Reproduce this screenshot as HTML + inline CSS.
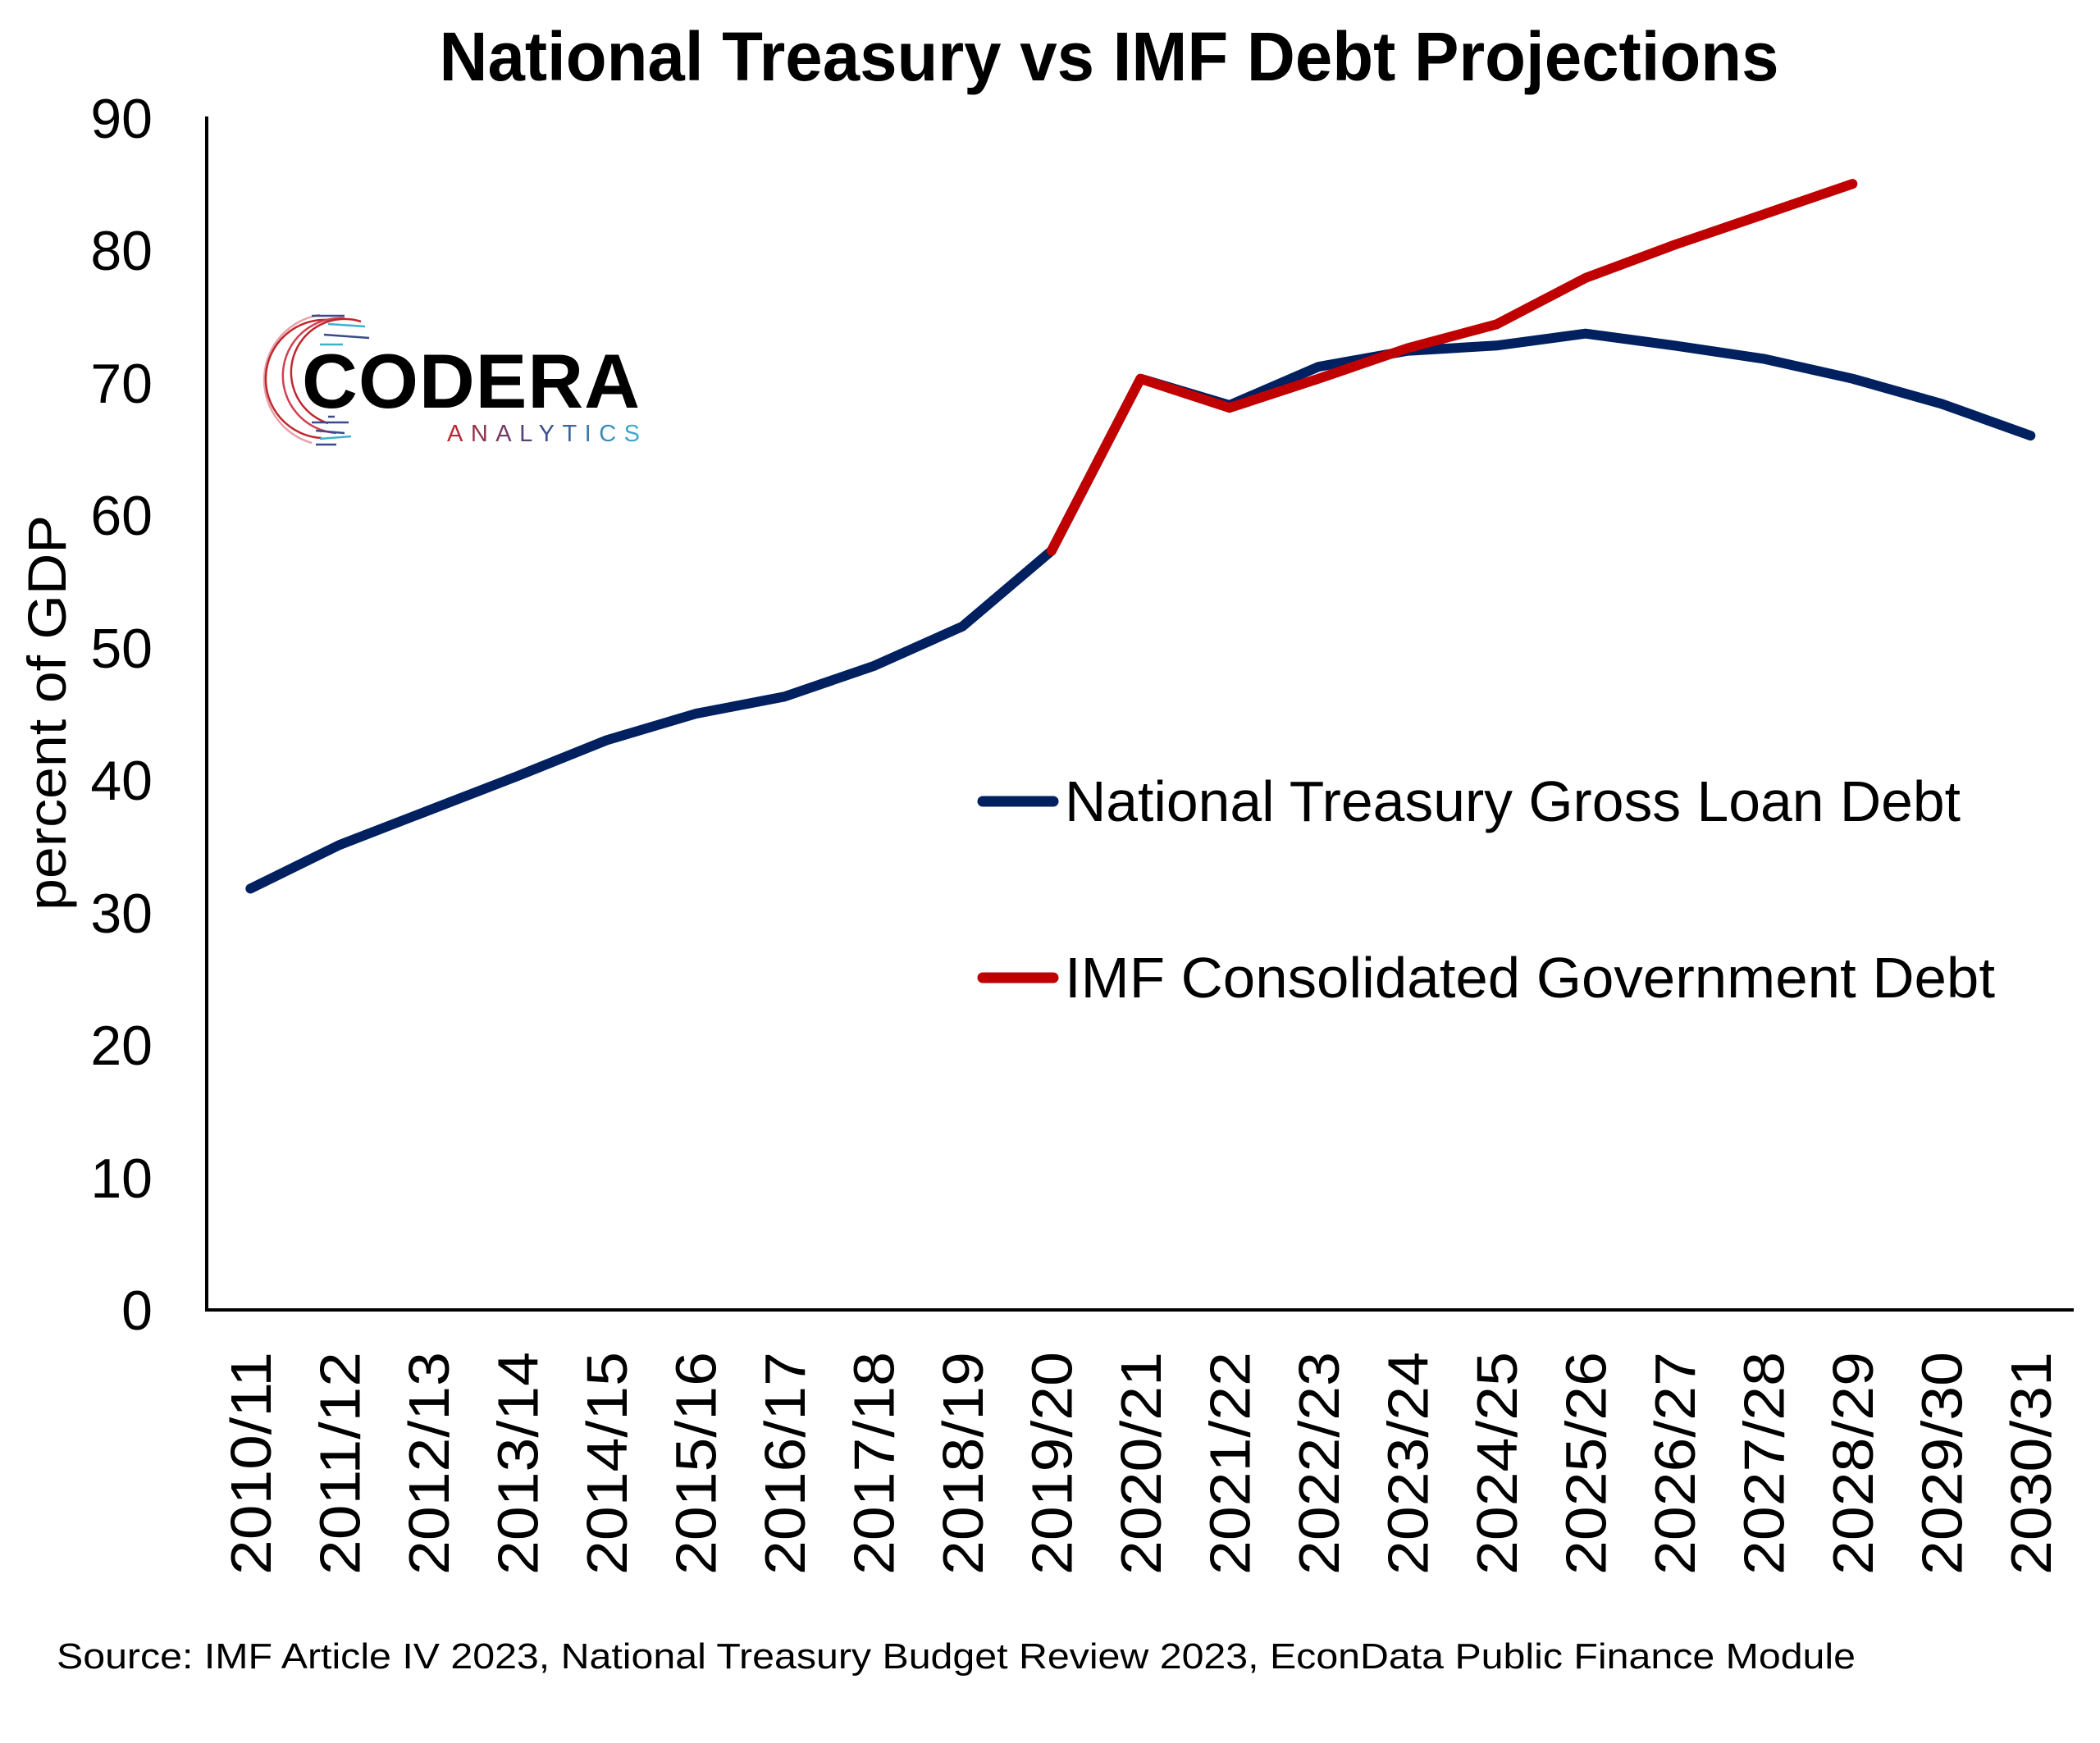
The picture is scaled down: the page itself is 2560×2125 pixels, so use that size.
<!DOCTYPE html>
<html><head><meta charset="utf-8"><style>
html,body{margin:0;padding:0;background:#fff;}
svg{display:block;}
text{font-family:"Liberation Sans",sans-serif;fill:#000;}
</style></head><body>
<svg width="2560" height="2125" viewBox="0 0 2560 2125" xmlns="http://www.w3.org/2000/svg">
<defs>
<linearGradient id="lg" x1="0" x2="1" y1="0" y2="0">
<stop offset="0" stop-color="#c0272d"/><stop offset="0.5" stop-color="#3b4a8c"/><stop offset="1" stop-color="#3fb0d0"/>
</linearGradient>
</defs>
<text x="1352" y="98" font-size="84" font-weight="bold" text-anchor="middle" textLength="1633" lengthAdjust="spacingAndGlyphs">National Treasury vs IMF Debt Projections</text>

<!-- axes -->
<line x1="252" y1="142" x2="252" y2="1598" stroke="#000" stroke-width="4"/>
<line x1="250" y1="1597" x2="2528" y2="1597" stroke="#000" stroke-width="4"/>

<g font-size="68" text-anchor="end">
<text x="186" y="1621">0</text>
<text x="186" y="1460">10</text>
<text x="186" y="1298">20</text>
<text x="186" y="1137">30</text>
<text x="186" y="975">40</text>
<text x="186" y="814">50</text>
<text x="186" y="652">60</text>
<text x="186" y="491">70</text>
<text x="186" y="329">80</text>
<text x="186" y="168">90</text>
</g>

<text transform="translate(80,869) rotate(-90)" font-size="66" text-anchor="middle" textLength="482" lengthAdjust="spacingAndGlyphs">percent of GDP</text>

<g font-size="70" text-anchor="end">
<text transform="translate(330,1648) rotate(-90)" textLength="272" lengthAdjust="spacingAndGlyphs">2010/11</text>
<text transform="translate(438.5,1648) rotate(-90)" textLength="272" lengthAdjust="spacingAndGlyphs">2011/12</text>
<text transform="translate(547,1648) rotate(-90)" textLength="272" lengthAdjust="spacingAndGlyphs">2012/13</text>
<text transform="translate(655.5,1648) rotate(-90)" textLength="272" lengthAdjust="spacingAndGlyphs">2013/14</text>
<text transform="translate(764,1648) rotate(-90)" textLength="272" lengthAdjust="spacingAndGlyphs">2014/15</text>
<text transform="translate(872.5,1648) rotate(-90)" textLength="272" lengthAdjust="spacingAndGlyphs">2015/16</text>
<text transform="translate(981,1648) rotate(-90)" textLength="272" lengthAdjust="spacingAndGlyphs">2016/17</text>
<text transform="translate(1089.5,1648) rotate(-90)" textLength="272" lengthAdjust="spacingAndGlyphs">2017/18</text>
<text transform="translate(1198,1648) rotate(-90)" textLength="272" lengthAdjust="spacingAndGlyphs">2018/19</text>
<text transform="translate(1306.5,1648) rotate(-90)" textLength="272" lengthAdjust="spacingAndGlyphs">2019/20</text>
<text transform="translate(1415,1648) rotate(-90)" textLength="272" lengthAdjust="spacingAndGlyphs">2020/21</text>
<text transform="translate(1523.5,1648) rotate(-90)" textLength="272" lengthAdjust="spacingAndGlyphs">2021/22</text>
<text transform="translate(1632,1648) rotate(-90)" textLength="272" lengthAdjust="spacingAndGlyphs">2022/23</text>
<text transform="translate(1740.5,1648) rotate(-90)" textLength="272" lengthAdjust="spacingAndGlyphs">2023/24</text>
<text transform="translate(1849,1648) rotate(-90)" textLength="272" lengthAdjust="spacingAndGlyphs">2024/25</text>
<text transform="translate(1957.5,1648) rotate(-90)" textLength="272" lengthAdjust="spacingAndGlyphs">2025/26</text>
<text transform="translate(2066,1648) rotate(-90)" textLength="272" lengthAdjust="spacingAndGlyphs">2026/27</text>
<text transform="translate(2174.5,1648) rotate(-90)" textLength="272" lengthAdjust="spacingAndGlyphs">2027/28</text>
<text transform="translate(2283,1648) rotate(-90)" textLength="272" lengthAdjust="spacingAndGlyphs">2028/29</text>
<text transform="translate(2391.5,1648) rotate(-90)" textLength="272" lengthAdjust="spacingAndGlyphs">2029/30</text>
<text transform="translate(2500,1648) rotate(-90)" textLength="272" lengthAdjust="spacingAndGlyphs">2030/31</text>
</g>

<!-- series -->
<polyline fill="none" stroke="#002060" stroke-width="12" stroke-linecap="round" stroke-linejoin="round"
points="305.3,1083.4 413.8,1030.1 522.3,988.1 630.8,946.2 739.3,902.5 847.8,870.2 956.3,849.3 1064.8,812.1 1173.3,763.7 1281.8,671.6 1390.3,461.7 1498.8,494 1607.3,447.1 1715.8,427.7 1824.3,421.3 1932.8,406.7 2041.3,421.3 2149.8,437.4 2258.3,461.7 2366.8,492.3 2475.3,531.1"/>
<polyline fill="none" stroke="#c00000" stroke-width="12" stroke-linecap="round" stroke-linejoin="round"
points="1281.8,671.6 1390.3,461.7 1498.8,497.2 1607.3,461.7 1715.8,424.5 1824.3,395.4 1932.8,338.9 2041.3,298.5 2149.8,261.4 2258.3,224.2"/>

<!-- legend -->
<line x1="1198" y1="977" x2="1284" y2="977" stroke="#002060" stroke-width="13" stroke-linecap="round"/>
<text x="1298" y="1001" font-size="70" textLength="1092" lengthAdjust="spacingAndGlyphs">National Treasury Gross Loan Debt</text>
<line x1="1198" y1="1192" x2="1284" y2="1192" stroke="#c00000" stroke-width="13" stroke-linecap="round"/>
<text x="1298" y="1216" font-size="70" textLength="1134" lengthAdjust="spacingAndGlyphs">IMF Consolidated Government Debt</text>

<!-- logo -->
<g fill="none" stroke-width="2.5">
<path d="M 390 384 A 80 80 0 0 0 380 540" stroke="#e8a0a8"/>
<path d="M 400 390 A 72 72 0 0 0 392 534" stroke="#c0272d"/>
<path d="M 420 388 A 66 66 0 0 0 410 528" stroke="#d04050"/>
<path d="M 440 392 A 60 60 0 0 0 400 516" stroke="#c0272d"/>
<path d="M 380 385 L 420 385" stroke="#3b4a8c"/>
<path d="M 400 395 L 445 398" stroke="#3fb0d0"/>
<path d="M 395 408 L 450 412" stroke="#3b4a8c"/>
<path d="M 390 420 L 418 420" stroke="#3fb0d0"/>
<path d="M 400 508 L 408 508" stroke="#3b4a8c"/>
<path d="M 380 515 L 425 515" stroke="#3b4a8c"/>
<path d="M 385 525 L 420 528" stroke="#3b4a8c"/>
<path d="M 390 535 L 428 532" stroke="#3fb0d0"/>
<path d="M 385 542 L 410 542" stroke="#3b4a8c"/>
</g>
<text x="368" y="497" font-size="94" font-weight="bold" textLength="412" lengthAdjust="spacing">CODERA</text>
<text x="545" y="538" font-size="29" fill="url(#lg)" textLength="235" lengthAdjust="spacing" style="fill:url(#lg)">ANALYTICS</text>

<text x="69" y="2034" font-size="44" textLength="2193" lengthAdjust="spacingAndGlyphs">Source: IMF Article IV 2023, National Treasury Budget Review 2023, EconData Public Finance Module</text>
</svg>
</body></html>
